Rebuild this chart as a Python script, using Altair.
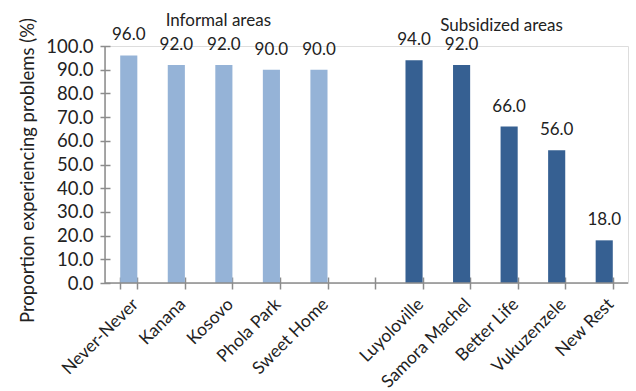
import altair as alt
import pandas as pd

informal = ["Never-Never", "Kanana", "Kosovo", "Phola Park", "Sweet Home"]
informal_vals = [96.0, 92.0, 92.0, 90.0, 90.0]
subsidized = ["Luyoloville", "Samora Machel", "Better Life", "Vukuzenzele", "New Rest"]
subsidized_vals = [94.0, 92.0, 66.0, 56.0, 18.0]
gap = " "
group_names = ["Informal areas", "Subsidized areas"]
group_anchor = ["Kosovo", "Better Life"]
group_dy = [-20, -15]
group_dx = [3, 1]
y_ticks = [0, 10, 20, 30, 40, 50, 60, 70, 80, 90, 100]

domain = informal + [gap] + subsidized
df = pd.DataFrame({
    "area": informal + subsidized,
    "value": informal_vals + subsidized_vals,
    "group": ["Informal"] * len(informal) + ["Subsidized"] * len(subsidized),
})
ann = pd.DataFrame({"area": group_anchor, "label": group_names, "dy": group_dy, "dx": group_dx})
ticks_df = pd.DataFrame({"v": y_ticks})

FONT = "Lato"
AXC = "#8c8c8c"
TXT = "#222222"

xscale = alt.Scale(domain=domain, paddingInner=0.64, paddingOuter=0.32)
yscale = alt.Scale(domain=[0, 100])

xaxis = alt.Axis(title=None, labelAngle=-45, labelFont=FONT, labelFontSize=17.5,
                 labelColor=TXT, tickBand="extent", tickColor=AXC, tickWidth=1.5,
                 tickSize=12, offset=-6, domain=False, labelPadding=6,
                 labelOverlap=False)
yaxis = alt.Axis(title="Proportion experiencing problems (%)", values=y_ticks,
                 format=".1f", labelFont=FONT, labelFontSize=18.5, labelColor=TXT,
                 labelOverlap=False, tickCount=11,
                 tickColor=AXC, tickWidth=1.5, tickSize=10, offset=-5,
                 domain=False, grid=False, labelPadding=7,
                 titleFont=FONT, titleFontSize=18.5, titleFontWeight="normal",
                 titleColor=TXT, titleX=-83, titleY=124, titleAngle=-90,
                 titleAlign="center", titleBaseline="middle")

base = alt.Chart(df)

bars = base.mark_bar().encode(
    x=alt.X("area:N", scale=xscale, sort=domain, axis=xaxis),
    y=alt.Y("value:Q", scale=yscale, axis=yaxis),
    color=alt.Color("group:N", scale=alt.Scale(domain=["Informal", "Subsidized"],
                                               range=["#95b3d7", "#366092"]), legend=None),
)

labels = base.mark_text(font=FONT, fontSize=17, color=TXT, baseline="alphabetic", dy=-15).encode(
    x=alt.X("area:N", scale=xscale, sort=domain, axis=xaxis),
    y=alt.Y("value:Q", scale=yscale, axis=yaxis),
    text=alt.Text("value:Q", format=".1f"),
)

x_domain_line = alt.Chart(ticks_df).transform_filter("datum.v == 0").mark_rule(
    color=AXC, strokeWidth=1.5).encode(
    y=alt.Y("v:Q", scale=yscale, axis=yaxis), x=alt.value(0), x2=alt.value(523))

y_domain_line = alt.Chart(ticks_df).transform_aggregate(lo="min(v)", hi="max(v)").mark_rule(
    color=AXC, strokeWidth=1.5).encode(
    y=alt.Y("lo:Q", scale=yscale, axis=yaxis), y2="hi:Q", x=alt.value(0))

ann_text = alt.Chart(ann).mark_text(font=FONT, fontSize=17, color=TXT, baseline="alphabetic").encode(
    x=alt.X("area:N", scale=xscale, sort=domain, axis=xaxis),
    y=alt.value(0),
    xOffset=alt.XOffset("dx:Q", scale=None),
    yOffset=alt.YOffset("dy:Q", scale=None),
    text="label:N",
)

chart = alt.layer(bars, labels, x_domain_line, y_domain_line, ann_text).properties(
    width=523, height=237,
    autosize=alt.AutoSizeParams(type="none"),
    padding={"left": 105, "top": 46, "right": 8, "bottom": 108},
).configure_view(stroke=None).configure(background="white")

chart.save("out.html", embed_options={"renderer": "svg", "actions": False})
